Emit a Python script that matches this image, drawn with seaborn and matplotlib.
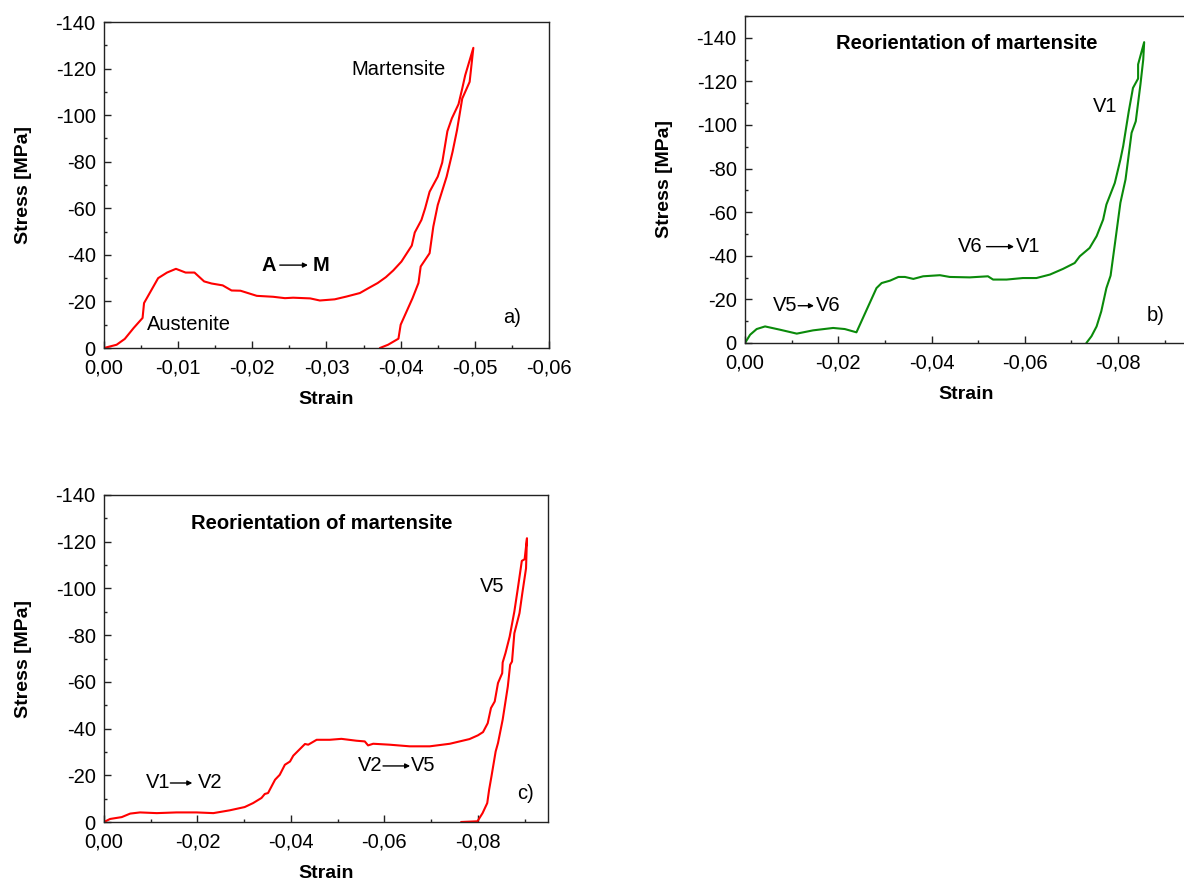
import numpy as np
import pandas as pd
import matplotlib
matplotlib.use("Agg")
import matplotlib.pyplot as plt
from matplotlib.ticker import MultipleLocator, FuncFormatter
import seaborn as sns

# ---------------- data ----------------
# Panel a) A -> M (loading then unloading)
strain_a = [0.0, -0.0017, -0.0028, -0.0040, -0.0052, -0.0054, -0.0073, -0.0085, -0.0097,
            -0.0110, -0.0122, -0.0135, -0.0145, -0.0160, -0.0172, -0.0184, -0.0206, -0.0228,
            -0.0244, -0.0255, -0.0278, -0.0291, -0.0311, -0.0327, -0.0345, -0.0356, -0.0369,
            -0.0380, -0.0390, -0.0401, -0.0415, -0.0419, -0.0428, -0.0433, -0.0439, -0.0450,
            -0.0456, -0.0463, -0.0469, -0.0478, -0.0483, -0.0487, -0.0498,
            -0.0493, -0.0483, -0.0476, -0.0470, -0.0462, -0.0450, -0.0444, -0.0439, -0.0427,
            -0.0424, -0.0416, -0.0408, -0.0400, -0.0397, -0.0383, -0.0372]
stress_a = [0.0, -1.4, -3.9, -8.6, -12.9, -19.3, -30.0, -32.4, -34.0,
            -32.4, -32.4, -28.6, -27.7, -26.9, -24.7, -24.6, -22.4, -22.0,
            -21.4, -21.6, -21.3, -20.4, -20.9, -22.1, -23.6, -25.6, -27.9,
            -30.4, -33.3, -37.1, -44.0, -49.6, -55.0, -60.0, -67.1, -73.6,
            -79.6, -93.1, -98.6, -104.7, -111.4, -117.1, -128.9,
            -114.3, -107.1, -93.6, -84.3, -73.6, -61.4, -52.1, -40.7, -35.0,
            -27.9, -21.4, -15.7, -10.0, -4.0, -1.4, 0.0]

# Panel b) reorientation V5 -> V6 -> V1
strain_b = [0.0, -0.0011, -0.0025, -0.0043, -0.0075, -0.0111, -0.0146, -0.0189, -0.0214,
            -0.0239, -0.0261, -0.0282, -0.0293, -0.0311, -0.0329, -0.0343, -0.0361, -0.0382,
            -0.0418, -0.0439, -0.0482, -0.0521, -0.0532, -0.0561, -0.0596, -0.0625, -0.0654,
            -0.0682, -0.0707, -0.0718, -0.0739, -0.0754, -0.0768, -0.0775, -0.0793, -0.0805,
            -0.0811, -0.0823, -0.0832, -0.0843, -0.0843, -0.0856,
            -0.0854, -0.0848, -0.0838, -0.0829, -0.0816, -0.0805, -0.0793, -0.0784, -0.0775,
            -0.0764, -0.0754, -0.0743, -0.0732]
stress_b = [0.0, -3.8, -6.4, -7.6, -6.1, -4.3, -5.8, -6.9, -6.4,
            -4.9, -15.3, -25.2, -27.5, -28.6, -30.3, -30.3, -29.4, -30.6,
            -31.1, -30.3, -30.1, -30.6, -29.1, -29.1, -29.8, -29.8, -31.4,
            -34.0, -36.7, -39.8, -43.6, -49.0, -56.6, -63.5, -73.4, -84.1,
            -90.3, -106.3, -117.0, -121.3, -127.8, -138.0,
            -130.0, -118.6, -101.7, -96.4, -75.0, -64.3, -45.1, -30.9, -25.2,
            -14.5, -7.6, -3.1, 0.0]

# Panel c) reorientation V1 -> V2 -> V5
strain_c = [0.0, -0.0013, -0.0038, -0.0056, -0.0077, -0.0113, -0.0155, -0.0198, -0.0234,
            -0.0269, -0.0301, -0.0319, -0.0337, -0.0344, -0.0351, -0.0366, -0.0376, -0.0387,
            -0.0398, -0.0405, -0.0430, -0.0437, -0.0455, -0.0483, -0.0508, -0.0540, -0.0558,
            -0.0565, -0.0576, -0.0611, -0.0654, -0.0697, -0.0740, -0.0782, -0.0800, -0.0811,
            -0.0821, -0.0828, -0.0836, -0.0843, -0.0852, -0.0853, -0.0859, -0.0868, -0.0878,
            -0.0885, -0.0894, -0.0900, -0.0905,
            -0.0903, -0.0895, -0.0889, -0.0878, -0.0873, -0.0869, -0.0864, -0.0853, -0.0843,
            -0.0838, -0.0829, -0.0824, -0.0820, -0.0810, -0.0799, -0.0764]
stress_c = [0.0, -1.3, -2.1, -3.6, -4.1, -3.8, -4.1, -4.1, -3.8,
            -5.0, -6.4, -8.1, -10.3, -12.0, -12.4, -18.1, -20.2, -24.5,
            -25.9, -28.4, -33.4, -33.1, -35.2, -35.2, -35.6, -34.8, -34.5,
            -32.8, -33.5, -33.1, -32.4, -32.4, -33.5, -35.5, -37.1, -38.5,
            -42.3, -48.8, -51.6, -59.5, -63.7, -68.3, -72.3, -79.4, -90.1,
            -99.4, -111.8, -112.5, -121.5,
            -108.6, -97.9, -89.4, -80.8, -68.7, -67.3, -58.0, -43.8, -33.8,
            -30.2, -19.5, -13.8, -8.1, -3.8, -0.3, 0.0]

# ---------------- style ----------------
sns.set_theme(style="ticks")
plt.rcParams['font.family'] = ['Liberation Sans', 'DejaVu Sans']
plt.rcParams['axes.linewidth'] = 1.0
plt.rcParams['text.color'] = 'black'
plt.rcParams['axes.labelcolor'] = 'black'
plt.rcParams['xtick.color'] = 'black'
plt.rcParams['ytick.color'] = 'black'

W, H = 1184, 881
fig = plt.figure(figsize=(W / 100, H / 100), dpi=100)


def px_axes(left, top, right, bottom):
    return fig.add_axes([left / W, 1 - bottom / H, (right - left) / W, (bottom - top) / H])


ax_a = px_axes(104, 22, 549, 348)
ax_b = px_axes(745, 16, 1188, 343)
ax_c = px_axes(104, 495, 548, 822)

FS = 14.5
fmt_x = FuncFormatter(lambda v, p: f"{v:.2f}".replace('.', ',').replace('-0,00', '0,00'))
fmt_y = FuncFormatter(lambda v, p: f"{int(round(v))}")


def style(ax, xlim, xmajor, ylim_top):
    ax.set_xlim(*xlim)
    ax.set_ylim(0, ylim_top)
    ax.xaxis.set_major_locator(MultipleLocator(xmajor))
    ax.xaxis.set_minor_locator(MultipleLocator(xmajor / 2))
    ax.yaxis.set_major_locator(MultipleLocator(20))
    ax.yaxis.set_minor_locator(MultipleLocator(10))
    ax.xaxis.set_major_formatter(fmt_x)
    ax.yaxis.set_major_formatter(fmt_y)
    ax.tick_params(which='both', direction='in', top=False, right=False,
                   colors='#222222', labelcolor='black', labelsize=FS, width=1.0)
    ax.tick_params(which='major', length=5, pad=6)
    ax.tick_params(which='minor', length=2.5)
    ax.tick_params(axis='x', which='major', pad=7.5)
    for s in ax.spines.values():
        s.set_color('#222222')
        s.set_visible(True)
    ax.set_xlabel('Strain', fontsize=14, fontweight='bold', labelpad=9.5)
    ax.set_ylabel('Stress [MPa]', fontsize=14, fontweight='bold', labelpad=17)
    ax.grid(False)


def curve(ax, x, y, color):
    df = pd.DataFrame({'strain': x, 'stress': y})
    sns.lineplot(data=df, x='strain', y='stress', sort=False, estimator=None,
                 color=color, lw=1.5, ax=ax)


def arrow_label(ax, left, x0, x1, right, y, t1, t2, weight='normal'):
    ax.text(left, y, t1, fontsize=FS, fontweight=weight, ha='left', va='center')
    ax.annotate('', xy=(x1, y), xytext=(x0, y),
                arrowprops=dict(arrowstyle='-|>', lw=1.0, color='black',
                                mutation_scale=7, shrinkA=0, shrinkB=0))
    ax.text(right, y, t2, fontsize=FS, fontweight=weight, ha='left', va='center')


RED = '#ff0000'
GREEN = '#0a8a0a'

# Panel a
curve(ax_a, strain_a, stress_a, RED)
style(ax_a, (0, -0.06), 0.01, -140)
ax_a.text(-0.0334, -119.4, 'Martensite', fontsize=FS, ha='left', va='center')
ax_a.text(-0.0058, -10.3, 'Austenite', fontsize=FS, ha='left', va='center')
arrow_label(ax_a, -0.0212, -0.0237, -0.0275, -0.0281, -35.6, 'A', 'M', weight='bold')
ax_a.text(-0.0538, -13.3, 'a)', fontsize=FS, ha='left', va='center')

# Panel b
curve(ax_b, strain_b, stress_b, GREEN)
style(ax_b, (0, -0.095), 0.02, -150)
ax_b.text(-0.0195, -137.3, 'Reorientation of martensite', fontsize=FS,
          fontweight='bold', ha='left', va='center')
ax_b.text(-0.0746, -108.4, 'V1', fontsize=FS, ha='left', va='center')
arrow_label(ax_b, -0.0456, -0.0518, -0.0577, -0.0582, -44.2, 'V6', 'V1')
arrow_label(ax_b, -0.0060, -0.0114, -0.0148, -0.0152, -17.1, 'V5', 'V6')
ax_b.text(-0.0862, -12.5, 'b)', fontsize=FS, ha='left', va='center')

# Panel c
curve(ax_c, strain_c, stress_c, RED)
style(ax_c, (0, -0.095), 0.02, -140)
ax_c.text(-0.0186, -127.6, 'Reorientation of martensite', fontsize=FS,
          fontweight='bold', ha='left', va='center')
ax_c.text(-0.0805, -101.0, 'V5', fontsize=FS, ha='left', va='center')
arrow_label(ax_c, -0.0543, -0.0597, -0.0655, -0.0657, -24.0, 'V2', 'V5')
arrow_label(ax_c, -0.0090, -0.0142, -0.0189, -0.0201, -16.7, 'V1', 'V2')
ax_c.text(-0.0883, -12.4, 'c)', fontsize=FS, ha='left', va='center')

fig.savefig('out.png', dpi=100)
